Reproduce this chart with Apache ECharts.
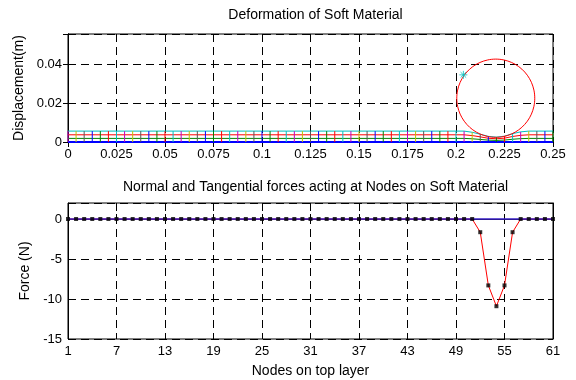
<!DOCTYPE html>
<html><head><meta charset="utf-8">
<script src="https://cdn.jsdelivr.net/npm/echarts@6/dist/echarts.min.js"></script>
<style>html,body{margin:0;padding:0;background:#fff}#c{width:576px;height:380px}</style>
</head><body><div id="c"></div>
<script>
// ---------- DATA ----------
const meshWidth = 0.25;          // m
const nodeCount = 61;
const layerHeights = [0, 0.00185, 0.0037, 0.0056];   // rows bottom -> top (m)
const layerColors = ['#0000ff', '#008000', '#ff0000', '#00bfbf'];
const nodeColorCycle = ['#bf00bf', '#bfbf00', '#555555', '#0000ff', '#008000', '#ff0000', '#00bfbf'];
// deformed top height at dented nodes (1-based node index)
const dentNodes = [51, 52, 53, 54, 55, 56, 57];
const dentTop   = [0.0050, 0.0040, 0.0029, 0.0025, 0.0030, 0.0043, 0.0052];
const circleCenter = [0.2205, 0.0225];
const circleRadius = 0.0201;
const markerPoint = [0.2038, 0.0345];
const xTicksTop = [0, 0.025, 0.05, 0.075, 0.1, 0.125, 0.15, 0.175, 0.2, 0.225, 0.25];
const yTicksTop = [0, 0.02, 0.04];

const nodeIndex = Array.from({length: 61}, (_, i) => i + 1);
const normalForce = [
  0,0,0,0,0,0,0,0,0,0,
  0,0,0,0,0,0,0,0,0,0,
  0,0,0,0,0,0,0,0,0,0,
  0,0,0,0,0,0,0,0,0,0,
  0,0,0,0,0,0,0,0,0,0,
  0,-1.65,-8.3,-10.9,-8.3,-1.65,0,0,0,0,
  0
];
const tangentialForce = new Array(61).fill(0);
const yTicksBottom = [-15, -10, -5, 0];

// ---------- BUILD ----------
const FONT = 'Liberation Sans, Arial, sans-serif';
const topH = layerHeights[layerHeights.length - 1];
function nodeX(i) { return meshWidth * i / (nodeCount - 1); }
function nodeTop(i) {
  const k = dentNodes.indexOf(i + 1);
  return k >= 0 ? dentTop[k] : topH;
}
const series = [];
// horizontal rows
layerHeights.forEach((h, r) => {
  const pts = [];
  for (let i = 0; i < nodeCount; i++) pts.push([nodeX(i), h * nodeTop(i) / topH]);
  series.push({type: 'line', xAxisIndex: 0, yAxisIndex: 0, data: pts, symbol: 'none',
    lineStyle: {color: layerColors[r], width: r === 0 ? 2 : 1}, silent: true, animation: false, z: 2});
});
// vertical lines
for (let i = 0; i < nodeCount; i++) {
  series.push({type: 'line', xAxisIndex: 0, yAxisIndex: 0,
    data: [[nodeX(i), 0], [nodeX(i), nodeTop(i)]], symbol: 'none',
    lineStyle: {color: nodeColorCycle[i % 7], width: 1}, silent: true, animation: false, z: 3});
}
// circle
const circ = [];
for (let k = 0; k <= 120; k++) {
  const a = 2 * Math.PI * k / 120;
  circ.push([circleCenter[0] + circleRadius * Math.cos(a), circleCenter[1] + circleRadius * Math.sin(a)]);
}
series.push({type: 'line', xAxisIndex: 0, yAxisIndex: 0, data: circ, symbol: 'none',
  lineStyle: {color: '#ff0000', width: 1}, animation: false, z: 4});
series.push({type: 'scatter', xAxisIndex: 0, yAxisIndex: 0, data: [markerPoint],
  symbol: 'path://M0,-10L0,10M-10,0L10,0M-7,-7L7,7M-7,7L7,-7', symbolSize: 8,
  itemStyle: {color: 'none', borderColor: '#00bfbf', borderWidth: 1}, animation: false, z: 5});

// forces
series.push({type: 'line', xAxisIndex: 2, yAxisIndex: 2, data: nodeIndex.map((n, i) => [n, normalForce[i]]),
  symbol: 'none', lineStyle: {color: '#ff0000', width: 1}, animation: false, z: 3});
series.push({type: 'line', xAxisIndex: 2, yAxisIndex: 2, data: nodeIndex.map((n, i) => [n, tangentialForce[i]]),
  symbol: 'none', lineStyle: {color: '#3a20c8', width: 1.5}, animation: false, z: 4});
series.push({type: 'scatter', xAxisIndex: 2, yAxisIndex: 2, data: nodeIndex.map((n, i) => [n, normalForce[i]]),
  symbol: 'rect', symbolSize: 4, itemStyle: {color: '#000'}, animation: false, z: 5});

const tickLbl = {color: '#000', fontSize: 13, fontFamily: FONT};
const dashed = {show: true, lineStyle: {color: '#000', type: [8, 5], width: 1}};
function fmt(v) { return String(+v.toFixed(4)); }

const option = {
  backgroundColor: '#fff',
  animation: false,
  title: [
    {text: 'Deformation of Soft Material', left: 310.5, textAlign: 'center', top: 3,
     textStyle: {fontSize: 14, fontWeight: 'normal', color: '#000', fontFamily: FONT}},
    {text: 'Normal and Tangential forces acting at Nodes on Soft Material', left: 310.5, textAlign: 'center', top: 175,
     textStyle: {fontSize: 14, fontWeight: 'normal', color: '#000', fontFamily: FONT}}
  ],
  grid: [
    {left: 68, right: 23, top: 34, height: 108, show: true, borderColor: '#000', borderWidth: 1, backgroundColor: '#fff'},
    {left: 68, right: 23, top: 203, height: 136, show: true, borderColor: '#000', borderWidth: 1, backgroundColor: '#fff'}
  ],
  xAxis: [
    {type: 'value', gridIndex: 0, min: 0, max: 0.25, interval: 0.025, position: 'bottom',
     axisLine: {show: true, lineStyle: {color: '#000'}}, axisTick: {inside: true, length: 5, lineStyle: {color: '#000'}},
     axisLabel: {...tickLbl, margin: 6, formatter: fmt}, splitLine: dashed},
    {type: 'value', gridIndex: 0, min: 0, max: 0.25, interval: 0.025, position: 'top',
     axisLine: {show: true, lineStyle: {color: '#000'}}, axisTick: {inside: true, length: 5, lineStyle: {color: '#000'}},
     axisLabel: {show: false}, splitLine: {show: false}},
    {type: 'value', gridIndex: 1, min: 1, max: 61, interval: 6, position: 'bottom',
     name: 'Nodes on top layer', nameLocation: 'middle', nameGap: 25,
     nameTextStyle: {fontSize: 14, color: '#000', fontFamily: FONT},
     axisLine: {show: true, lineStyle: {color: '#000'}}, axisTick: {inside: true, length: 5, lineStyle: {color: '#000'}},
     axisLabel: {...tickLbl, margin: 6}, splitLine: dashed},
    {type: 'value', gridIndex: 1, min: 1, max: 61, interval: 6, position: 'top',
     axisLine: {show: true, lineStyle: {color: '#000'}}, axisTick: {inside: true, length: 5, lineStyle: {color: '#000'}},
     axisLabel: {show: false}, splitLine: {show: false}}
  ],
  yAxis: [
    {type: 'value', gridIndex: 0, min: 0, max: 0.0555, interval: 0.02, position: 'left',
     name: 'Displacement(m)', nameLocation: 'middle', nameGap: 41,
     nameTextStyle: {fontSize: 14, color: '#000', fontFamily: FONT},
     axisLine: {show: true, lineStyle: {color: '#000'}}, axisTick: {inside: true, length: 5, lineStyle: {color: '#000'}},
     axisLabel: {...tickLbl, margin: 6, formatter: fmt, showMaxLabel: false}, splitLine: dashed},
    {type: 'value', gridIndex: 0, min: 0, max: 0.0555, interval: 0.02, position: 'right',
     axisLine: {show: true, lineStyle: {color: '#000'}}, axisTick: {inside: true, length: 5, lineStyle: {color: '#000'}},
     axisLabel: {show: false}, splitLine: {show: false}},
    {type: 'value', gridIndex: 1, min: -15, max: 2, interval: 5, position: 'left',
     name: 'Force (N)', nameLocation: 'middle', nameGap: 34,
     nameTextStyle: {fontSize: 14, color: '#000', fontFamily: FONT},
     axisLine: {show: true, lineStyle: {color: '#000'}}, axisTick: {inside: true, length: 5, lineStyle: {color: '#000'}},
     axisLabel: {...tickLbl, margin: 6, showMaxLabel: false}, splitLine: dashed},
    {type: 'value', gridIndex: 1, min: -15, max: 2, interval: 5, position: 'right',
     axisLine: {show: true, lineStyle: {color: '#000'}}, axisTick: {inside: true, length: 5, lineStyle: {color: '#000'}},
     axisLabel: {show: false}, splitLine: {show: false}}
  ],
  series: series
};
const chart = echarts.init(document.getElementById('c'), null, {renderer: 'canvas'});
chart.setOption(option);
</script>
</body></html>
